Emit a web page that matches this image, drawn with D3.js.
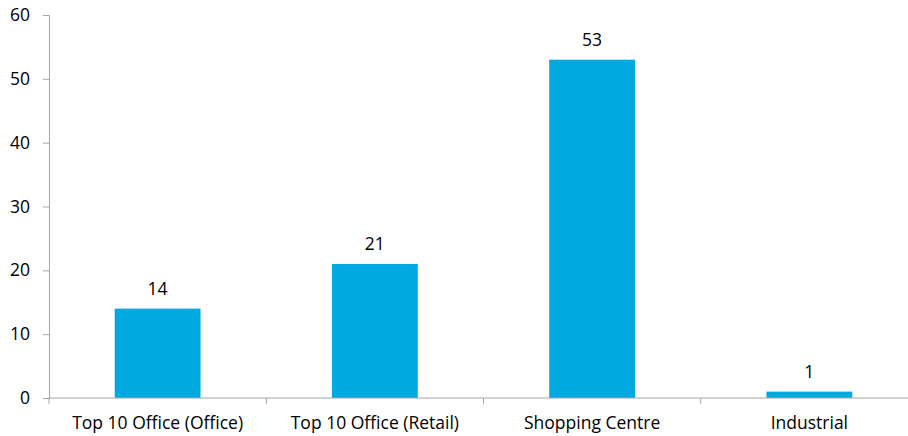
<!DOCTYPE html>
<meta charset="utf-8">
<style>
body { margin: 0; background: #fff; }
text { font-family: "Open Sans", sans-serif; fill: #000; }
.axis path, .axis line { stroke: #a6a6a6; }
</style>
<body>
<script src="https://cdnjs.cloudflare.com/ajax/libs/d3/7.8.5/d3.min.js"></script>
<script>
var categories = ["Top 10 Office (Office)", "Top 10 Office (Retail)", "Shopping Centre", "Industrial"];
var values = [14, 21, 53, 1];
var yTicks = [0, 10, 20, 30, 40, 50, 60];

var width = 908, height = 436;
var mLeft = 49, mRight = 918, mTop = 15, mBottom = 398;
var fontSize = "17.5px";

var svg = d3.select("body").append("svg")
    .attr("width", width)
    .attr("height", height);

var x = d3.scaleBand().domain(categories).range([mLeft, mRight]).padding(0);
var y = d3.scaleLinear().domain([0, 60]).range([mBottom, mTop]);

// bars
var barW = x.bandwidth() * 0.395;
svg.selectAll(".bar")
   .data(values)
   .enter()
   .append("rect")
   .attr("class", "bar")
   .attr("x", function(d, i) { return x(categories[i]) + (x.bandwidth() - barW) / 2; })
   .attr("y", function(d) { return y(d); })
   .attr("width", barW)
   .attr("height", function(d) { return mBottom - y(d); })
   .attr("fill", "#00a9e0");

// value labels
svg.selectAll(".val")
   .data(values)
   .enter()
   .append("text")
   .attr("class", "val")
   .attr("x", function(d, i) { return x(categories[i]) + x.bandwidth() / 2; })
   .attr("y", function(d) { return y(d) - 14; })
   .attr("text-anchor", "middle")
   .style("font-size", fontSize)
   .text(function(d) { return d; });

// y axis
var yAxis = svg.append("g")
   .attr("class", "axis")
   .attr("transform", "translate(" + mLeft + ",0)")
   .call(d3.axisLeft(y).tickValues(yTicks).tickSize(6).tickSizeOuter(6).tickPadding(13));
yAxis.selectAll("text").style("font-size", fontSize).attr("fill", "#000");

// x axis (ticks at band edges)
var xg = svg.append("g")
   .attr("class", "axis")
   .attr("transform", "translate(0," + mBottom + ")");
xg.append("line").attr("x1", mLeft).attr("x2", mRight).attr("stroke", "#a6a6a6");
var edges = categories.map(function(c) { return x(c); }).concat([mRight]);
xg.selectAll(".edge")
  .data(edges)
  .enter()
  .append("line")
  .attr("x1", function(d) { return d; })
  .attr("x2", function(d) { return d; })
  .attr("y1", 0)
  .attr("y2", 6)
  .attr("stroke", "#a6a6a6");
xg.selectAll(".lbl")
  .data(categories)
  .enter()
  .append("text")
  .attr("x", function(d) { return x(d) + x.bandwidth() / 2; })
  .attr("y", 31)
  .attr("text-anchor", "middle")
  .style("font-size", fontSize)
  .text(function(d) { return d; });
</script>
</body>
